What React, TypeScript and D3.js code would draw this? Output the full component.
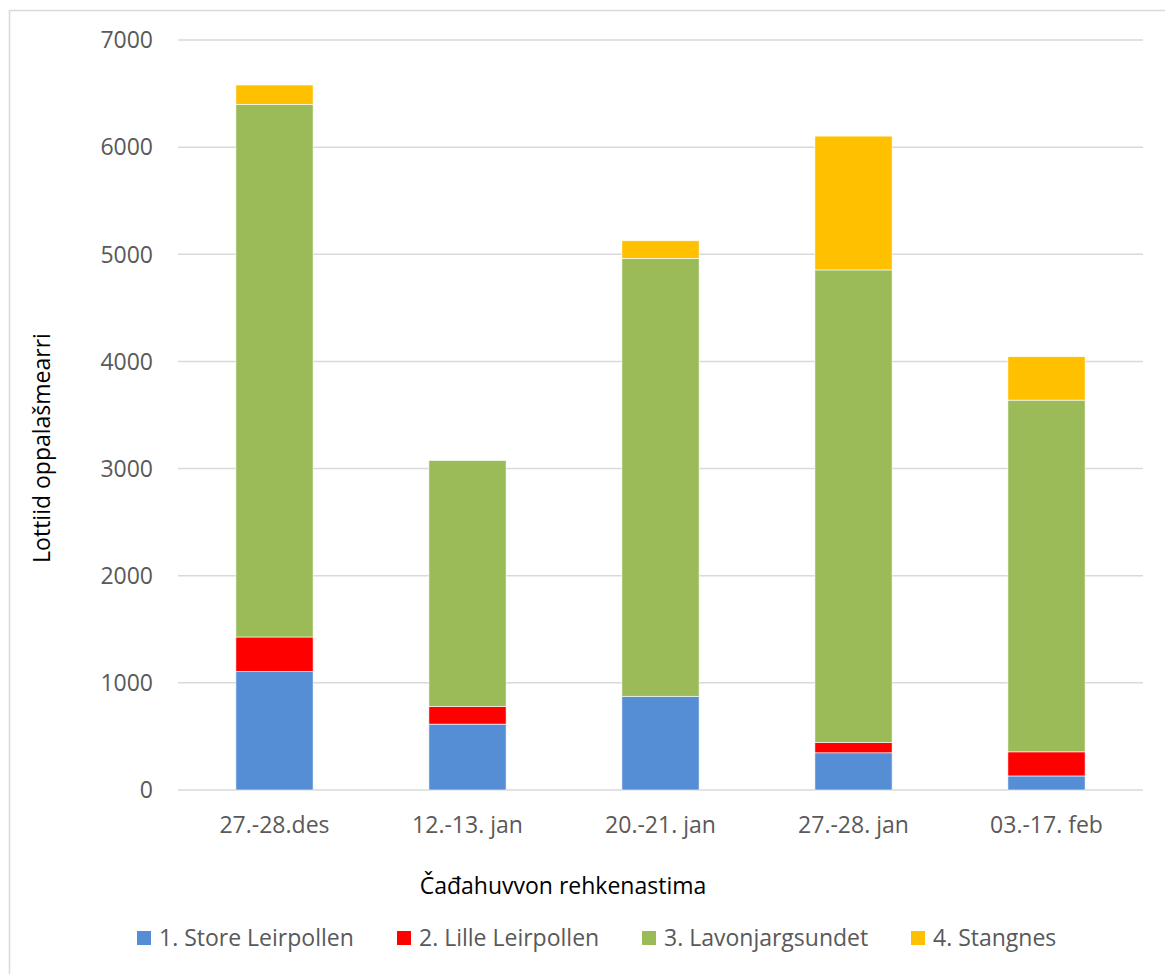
import React, { useEffect, useRef } from "react"
import * as d3 from "d3"

const categories = ["27.-28.des", "12.-13. jan", "20.-21. jan", "27.-28. jan", "03.-17. feb"]
const seriesNames = ["1. Store Leirpollen", "2. Lille Leirpollen", "3. Lavonjargsundet", "4. Stangnes"]
const storeLeirpollen = [1105, 615, 875, 347, 131]
const lilleLeirpollen = [323, 165, 0, 97, 225]
const lavonjargsundet = [4972, 2295, 4087, 4410, 3283]
const stangnes = [180, 0, 164, 1249, 405]
const yTicks = [0, 1000, 2000, 3000, 4000, 5000, 6000, 7000]
const colors = ["#558ed5", "#ff0000", "#9bbb59", "#ffc000"]

const width = 1165
const height = 974
const plot = { left: 178, right: 1143, top: 40, bottom: 790 }
const font = "'Open Sans', 'Noto Sans', sans-serif"
const fontSize = 23

export default function App() {
  const ref = useRef<SVGSVGElement>(null)

  useEffect(() => {
    const svg = d3.select(ref.current)
    svg.selectAll("*").remove()

    const rows = categories.map((c, i) => ({
      cat: c,
      s0: storeLeirpollen[i],
      s1: lilleLeirpollen[i],
      s2: lavonjargsundet[i],
      s3: stangnes[i]
    }))
    const stack = d3.stack<any>().keys(["s0", "s1", "s2", "s3"])(rows)

    const x = d3
      .scaleBand()
      .domain(categories)
      .range([plot.left, plot.right])
      .paddingInner(0.6)
      .paddingOuter(0.3)

    const y = d3.scaleLinear().domain([0, 7000]).range([plot.bottom, plot.top])

    // chart border (only left/top edges visible in the frame)
    svg
      .append("rect")
      .attr("x", 9.5)
      .attr("y", 10.5)
      .attr("width", width + 20)
      .attr("height", height + 20)
      .attr("fill", "white")
      .attr("stroke", "#d9d9d9")
      .attr("stroke-width", 1.5)

    // gridlines
    svg
      .append("g")
      .selectAll("line")
      .data(yTicks)
      .enter()
      .append("line")
      .attr("x1", plot.left)
      .attr("x2", plot.right)
      .attr("y1", d => y(d))
      .attr("y2", d => y(d))
      .attr("stroke", "#d9d9d9")
      .attr("stroke-width", 1.5)

    // y tick labels
    svg
      .append("g")
      .selectAll("text")
      .data(yTicks)
      .enter()
      .append("text")
      .attr("x", 153)
      .attr("y", d => y(d))
      .attr("dy", "0.36em")
      .attr("text-anchor", "end")
      .attr("font-family", font)
      .attr("font-size", fontSize)
      .attr("fill", "#595959")
      .text(d => d)

    // bars
    svg
      .append("g")
      .selectAll("g")
      .data(stack)
      .enter()
      .append("g")
      .attr("fill", (_, i) => colors[i])
      .selectAll("rect")
      .data(d => d.filter(p => p[1] - p[0] > 0))
      .enter()
      .append("rect")
      .attr("x", d => x(d.data.cat) as number)
      .attr("width", x.bandwidth())
      .attr("y", d => y(d[1]))
      .attr("height", d => y(d[0]) - y(d[1]))
      .attr("stroke", "white")
      .attr("stroke-width", 0.6)

    // x labels
    svg
      .append("g")
      .selectAll("text")
      .data(categories)
      .enter()
      .append("text")
      .attr("x", d => (x(d) as number) + x.bandwidth() / 2)
      .attr("y", 833)
      .attr("text-anchor", "middle")
      .attr("font-family", font)
      .attr("font-size", fontSize)
      .attr("fill", "#595959")
      .text(d => d)

    // axis titles
    svg
      .append("text")
      .attr("x", 563)
      .attr("y", 894)
      .attr("text-anchor", "middle")
      .attr("font-family", font)
      .attr("font-size", fontSize)
      .attr("fill", "#000")
      .text("Čađahuvvon rehkenastima")

    svg
      .append("text")
      .attr("transform", "translate(50 448) rotate(-90)")
      .attr("text-anchor", "middle")
      .attr("font-family", font)
      .attr("font-size", fontSize)
      .attr("fill", "#000")
      .text("Lottiid oppalašmearri")

    // legend
    const legendX = [137, 397, 642, 911]
    const legend = svg
      .append("g")
      .selectAll("g")
      .data(seriesNames)
      .enter()
      .append("g")
      .attr("transform", (_, i) => `translate(${legendX[i]} 931)`)
    legend
      .append("rect")
      .attr("width", 14)
      .attr("height", 14)
      .attr("fill", (_, i) => colors[i])
    legend
      .append("text")
      .attr("x", 22)
      .attr("y", 15)
      .attr("font-family", font)
      .attr("font-size", fontSize)
      .attr("fill", "#595959")
      .text(d => d)
  }, [])

  return (
    <svg
      ref={ref}
      width={width}
      height={height}
      style={{ position: "absolute", left: 0, top: 0, background: "white" }}
    ></svg>
  )
}
